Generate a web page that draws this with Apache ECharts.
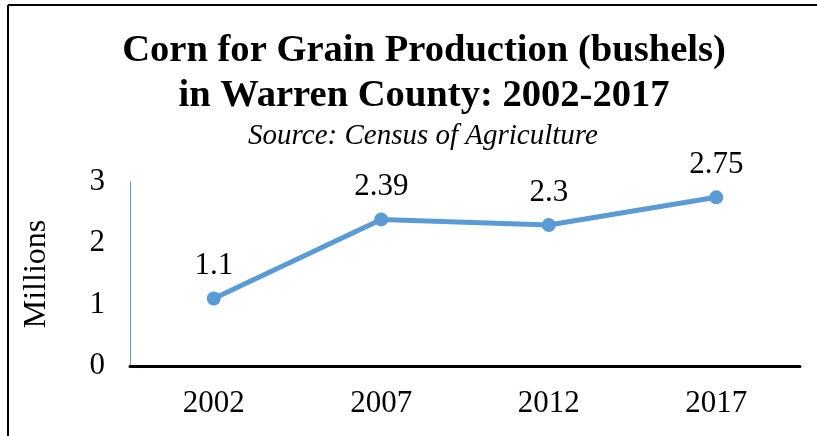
<!DOCTYPE html>
<html>
<head>
<meta charset="utf-8">
<script src="https://cdn.jsdelivr.net/npm/echarts@6/dist/echarts.min.js"></script>
<style>
html,body{margin:0;padding:0;background:#fff;}
#c{width:817px;height:436px;}
</style>
</head>
<body>
<div id="c"></div>
<script>
const categories = ['2002', '2007', '2012', '2017'];
const production = [1.1, 2.39, 2.3, 2.75];
const yTicks = [0, 1, 2, 3];

const serif = '"Liberation Serif", "Times New Roman", serif';
const chart = echarts.init(document.getElementById('c'));
chart.setOption({
  animation: false,
  backgroundColor: '#fff',
  title: [{
    text: 'Corn for Grain Production (bushels)\nin Warren County: 2002-2017',
    left: 419, top: 24, textAlign: 'center',
    textStyle: {fontFamily: serif, fontWeight: 'bold', fontSize: 38.6, lineHeight: 45, color: '#000'}
  }, {
    text: 'Source: Census of Agriculture',
    left: 418, top: 117, textAlign: 'center',
    textStyle: {fontFamily: serif, fontStyle: 'italic', fontWeight: 'normal', fontSize: 29, color: '#000'}
  }],
  graphic: [
    {type: 'line', shape: {x1: 8, y1: 5, x2: 817, y2: 5}, style: {stroke: '#000', lineWidth: 2}},
    {type: 'line', shape: {x1: 8, y1: 5, x2: 8, y2: 436}, style: {stroke: '#000', lineWidth: 2}}
  ],
  grid: {left: 130, right: 17, top: 182, bottom: 70},
  xAxis: {
    type: 'category', data: categories, boundaryGap: true,
    axisLine: {show: true, lineStyle: {color: '#000', width: 3}},
    axisTick: {show: false},
    axisLabel: {fontFamily: serif, fontSize: 31, color: '#000', margin: 22}
  },
  yAxis: {
    type: 'value', min: yTicks[0], max: yTicks[yTicks.length - 1], interval: 1,
    name: 'Millions', nameLocation: 'middle', nameRotate: 90, nameGap: 77,
    nameTextStyle: {fontFamily: serif, fontSize: 32, color: '#000'},
    axisLine: {show: true, lineStyle: {color: '#5B9BD5', width: 1}},
    axisTick: {show: false},
    splitLine: {show: false},
    axisLabel: {fontFamily: serif, fontSize: 31, color: '#000', margin: 25}
  },
  series: [{
    type: 'line', data: production,
    lineStyle: {color: '#5B9BD5', width: 5},
    itemStyle: {color: '#5B9BD5'},
    symbol: 'circle', symbolSize: 14,
    label: {show: true, position: 'top', distance: 10, fontFamily: serif, fontSize: 31, color: '#000'}
  }]
});
</script>
</body>
</html>
